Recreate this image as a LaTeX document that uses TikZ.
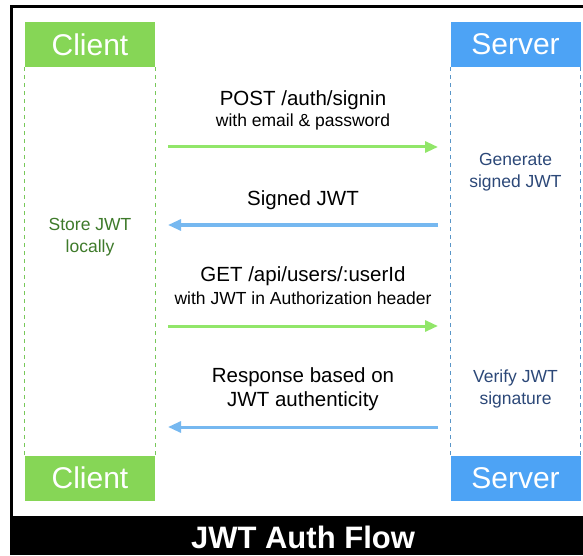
\documentclass[tikz,border=0pt]{standalone}
\usepackage{fontspec}
\setmainfont{Liberation Sans}
\usetikzlibrary{arrows.meta}
\definecolor{boxgreen}{RGB}{134,214,86}
\definecolor{boxblue}{RGB}{77,163,245}
\definecolor{arrgreen}{RGB}{145,230,105}
\definecolor{arrblue}{RGB}{118,184,240}
\definecolor{dashgreen}{RGB}{120,200,90}
\definecolor{dashblue}{RGB}{90,150,200}
\definecolor{txtgreen}{RGB}{62,122,42}
\definecolor{txtblue}{RGB}{44,72,120}
\tikzset{
  x=1pt,y=1pt,
  actor/.style={minimum width=130pt,minimum height=45pt,inner sep=0pt,text=white,
    font=\fontsize{30}{34}\selectfont},
  clientbox/.style={actor,fill=boxgreen},
  serverbox/.style={actor,fill=boxblue},
  cline/.style={dashgreen,dash pattern=on 4pt off 4pt,line width=0.8pt},
  sline/.style={dashblue,dash pattern=on 4pt off 4pt,line width=0.8pt},
  msg/.style={line width=3pt,-{Triangle[length=13pt,width=11pt]}},
  req/.style={msg,arrgreen},
  resp/.style={msg,arrblue},
  lbl/.style={align=center,inner sep=0pt,text=black},
  big/.style={font=\fontsize{20.5}{24}\selectfont},
  small/.style={font=\fontsize{17.5}{22}\selectfont},
  note/.style={align=center,inner sep=0pt,font=\fontsize{17.5}{22}\selectfont},
}
\begin{document}
\begin{tikzpicture}
\useasboundingbox (0,0) rectangle (583,555);
% frame and title bar
\fill[black] (9.5,0) rectangle (583,39);
\draw[line width=3pt] (11,39) -- (11,548) -- (583,548);
\node[text=white,font=\bfseries\fontsize{31}{34}\selectfont] (title) at (303,18) {JWT Auth Flow};
% actors
\node[clientbox] (ct) at (90,510.5) {Client};
\node[serverbox] (st) at (515.5,510.5) {Server};
\node[clientbox] (cb) at (90,77) {Client};
\node[serverbox] (sb) at (515.5,77) {Server};
% lifelines
\draw[cline] (ct.south west) -- (cb.north west);
\draw[cline] (ct.south east) -- (cb.north east);
\draw[sline] (st.south west) -- (sb.north west);
\draw[sline] (st.south east) -- (sb.north east);
% arrow end points
\coordinate (c1) at (168,408); \coordinate (s1) at (438,408);
\coordinate (c2) at (168,330); \coordinate (s2) at (438,330);
\coordinate (c3) at (168,229); \coordinate (s3) at (438,229);
\coordinate (c4) at (168,128); \coordinate (s4) at (438,128);
\draw[req] (c1) -- (s1);
\draw[resp] (s2) -- (c2);
\draw[req] (c3) -- (s3);
\draw[resp] (s4) -- (c4);
% labels
\node[lbl,big] (l1a) at (303,455) {POST /auth/signin};
\node[lbl,small] (l1b) at (303,433) {with email \& password};
\node[lbl,big] (l2) at (303,355) {Signed JWT};
\node[lbl,big] (l3a) at (303,279) {GET /api/users/:userId};
\node[lbl,small] (l3b) at (303,257) {with JWT in Authorization header};
\node[lbl,big] (l4) at (303,166) {Response based on\\JWT authenticity};
% notes
\node[note,text=txtblue] (gen) at (515.5,383) {Generate\\signed JWT};
\node[note,text=txtblue] (ver) at (515.5,166) {Verify JWT\\signature};
\node[note,text=txtgreen] (store) at (90,318) {Store JWT\\locally};
\end{tikzpicture}
\end{document}
